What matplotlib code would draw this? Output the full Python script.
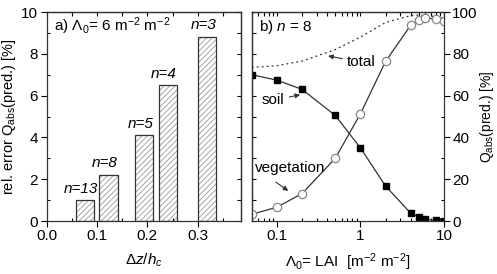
import matplotlib
matplotlib.use("Agg")
from matplotlib import pyplot as plt
from matplotlib.ticker import MultipleLocator, LogLocator, NullFormatter

plt.rcParams["font.family"] = ["Liberation Sans", "DejaVu Sans"]
plt.rcParams["mathtext.fontset"] = "custom"
plt.rcParams["mathtext.rm"] = "Liberation Sans"
plt.rcParams["mathtext.it"] = "Liberation Sans:italic"
plt.rcParams["font.size"] = 11
plt.rcParams["hatch.linewidth"] = 0.6

# panel a) relative error vs layer thickness
layer_dz = [0.076, 0.123, 0.194, 0.241, 0.319]
rel_error = [1.0, 2.2, 4.1, 6.5, 8.8]
n_labels = ["n=13", "n=8", "n=5", "n=4", "n=3"]

# panel b) absorbed fraction vs LAI
lai = [0.05, 0.1, 0.2, 0.5, 1, 2, 4, 5, 6, 8, 10]
q_soil = [70.0, 67.4, 63.0, 50.5, 35.0, 16.7, 3.7, 1.9, 0.8, 0.3, 0.1]
q_veg = [3.2, 6.6, 13.1, 30.0, 51.3, 76.4, 93.7, 96.2, 97.0, 96.8, 95.8]
q_total = [73.5, 74.3, 76.5, 82.0, 88.0, 95.0, 98.3, 98.5, 98.3, 97.8, 97.0]

fig = plt.figure(figsize=(4.97, 2.74), dpi=100)
ax1 = fig.add_axes([0.0936, 0.1934, 0.3907, 0.7628])
ax2 = fig.add_axes([0.5064, 0.1934, 0.3870, 0.7628])

for ax in (ax1, ax2):
    for sp in ax.spines.values():
        sp.set_color("#333333")
        sp.set_linewidth(0.9)

# ---- panel a
ax1.bar(layer_dz, rel_error, width=0.036, color="white", edgecolor="#999999",
        hatch="//////", linewidth=0)
ax1.bar(layer_dz, rel_error, width=0.036, color="none", edgecolor="#333333",
        linewidth=0.9)
for x, y, lab in zip(layer_dz, rel_error, n_labels):
    ax1.text(x - 0.008, y + 0.22, lab, ha="center", va="bottom",
             style="italic", fontsize=11)
ax1.text(0.04, 0.93, r"a) $\Lambda_0$= 6 m$^{-2}$ m$^{-2}$", transform=ax1.transAxes,
         ha="left", va="center", fontsize=11)
ax1.set_xlim(0, 0.385)
ax1.set_ylim(0, 10)
ax1.xaxis.set_major_locator(MultipleLocator(0.1))
ax1.xaxis.set_minor_locator(MultipleLocator(0.05))
ax1.yaxis.set_major_locator(MultipleLocator(2))
ax1.yaxis.set_minor_locator(MultipleLocator(1))
ax1.xaxis.set_major_formatter(plt.FormatStrFormatter("%.1f"))
ax1.tick_params(which="major", direction="out", length=4, width=0.8, pad=2)
ax1.tick_params(which="minor", direction="in", length=2.5, width=0.8)
ax1.set_xlabel(r"$\Delta z/h_c$", labelpad=6)
ax1.set_ylabel(r"rel. error Q$_{\mathrm{abs}}$(pred.) [%]", labelpad=2,
               fontsize=10.5)

top1 = ax1.secondary_xaxis("top")
top1.xaxis.set_major_locator(MultipleLocator(0.05))
top1.tick_params(direction="in", length=3, width=0.8, labeltop=False)
right1 = ax1.secondary_yaxis("right")
right1.yaxis.set_major_locator(MultipleLocator(1))
right1.tick_params(direction="in", length=3, width=0.8, labelright=False)
for sec in (top1, right1):
    for sp in sec.spines.values():
        sp.set_color("#333333")
        sp.set_linewidth(0.9)

# ---- panel b
ax2.set_xscale("log")
ax2.plot(lai, q_total, ls=(0, (1.5, 2.5)), color="#333333", lw=0.9)
ax2.plot(lai, q_soil, ls="-", color="#333333", lw=0.9, marker="s",
         markersize=5, markerfacecolor="black", markeredgecolor="black")
ax2.plot(lai, q_veg, ls="-", color="#333333", lw=0.9, marker="o",
         markersize=6, markerfacecolor="white", markeredgecolor="#888888",
         markeredgewidth=0.9)
ax2.set_xlim(0.05, 10)
ax2.set_ylim(0, 100)
ax2.yaxis.tick_right()
ax2.yaxis.set_label_position("right")
ax2.yaxis.set_major_locator(MultipleLocator(20))
ax2.yaxis.set_minor_locator(MultipleLocator(10))
ax2.xaxis.set_major_formatter(plt.FuncFormatter(lambda v, p: "%g" % v))
ax2.xaxis.set_minor_locator(LogLocator(base=10, subs=range(2, 10)))
ax2.xaxis.set_minor_formatter(NullFormatter())
ax2.tick_params(which="major", direction="out", length=4, width=0.8, pad=2)
ax2.tick_params(which="minor", direction="in", length=2.5, width=0.8)
ax2.set_xlabel(r"$\Lambda_0$= LAI  [m$^{-2}$ m$^{-2}$]", labelpad=6)
ax2.set_ylabel(r"Q$_{\mathrm{abs}}$(pred.) [%]", labelpad=0, fontsize=10)

top2 = ax2.secondary_xaxis("top")
top2.set_xscale("log")
top2.xaxis.set_major_locator(LogLocator(base=10, subs=range(1, 10)))
top2.xaxis.set_minor_formatter(NullFormatter())
top2.tick_params(which="both", direction="in", length=3, width=0.8, labeltop=False)
left2 = ax2.secondary_yaxis("left")
left2.yaxis.set_major_locator(MultipleLocator(10))
left2.tick_params(direction="in", length=3, width=0.8, labelleft=False)
for sec in (top2, left2):
    for sp in sec.spines.values():
        sp.set_color("#333333")
        sp.set_linewidth(0.9)

ax2.text(0.04, 0.93, r"b) $n$ = 8", transform=ax2.transAxes,
         ha="left", va="center", fontsize=11)
ax2.annotate("total", xy=(0.41, 79.0), xytext=(0.68, 76.0), ha="left",
             va="center", fontsize=11,
             arrowprops=dict(arrowstyle="-|>", color="#333333", lw=0.8,
                             mutation_scale=7, shrinkA=1, shrinkB=0))
ax2.annotate("soil", xy=(0.19, 60.4), xytext=(0.089, 57.7), ha="center",
             va="center", fontsize=11,
             arrowprops=dict(arrowstyle="-|>", color="#333333", lw=0.8,
                             mutation_scale=7, shrinkA=2, shrinkB=0))
ax2.annotate("vegetation", xy=(0.137, 14.4), xytext=(0.143, 25.6), ha="center",
             va="center", fontsize=11,
             arrowprops=dict(arrowstyle="-|>", color="#333333", lw=0.8,
                             mutation_scale=7, shrinkA=6, shrinkB=0,
                             relpos=(0.15, 0.0)))

fig.savefig("out.png", dpi=100)
